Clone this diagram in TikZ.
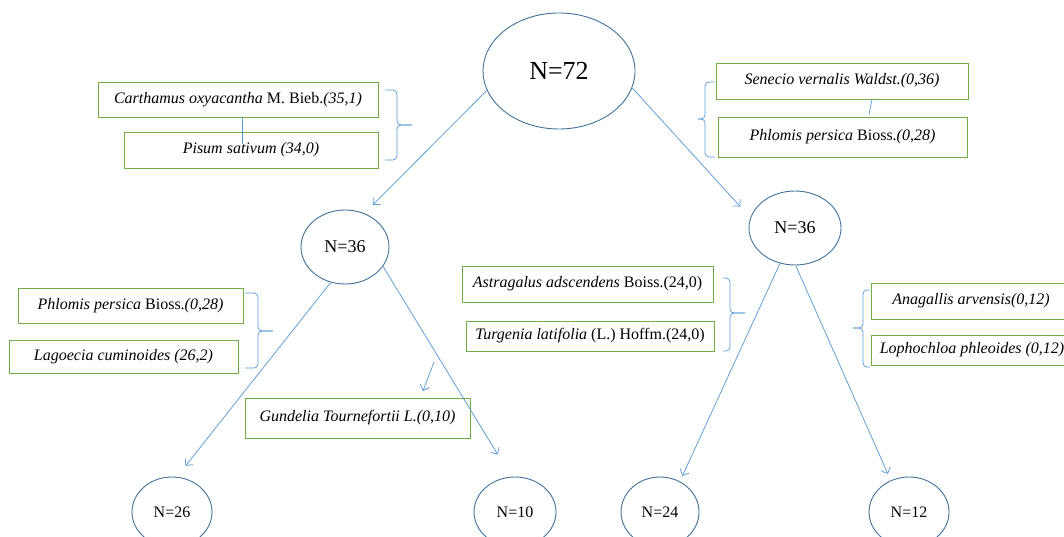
\documentclass[tikz,border=0pt]{standalone}
\usepackage{fontspec}
\setmainfont{Liberation Serif}
\usetikzlibrary{shapes.geometric,arrows.meta}
\definecolor{ellc}{HTML}{41719C}
\definecolor{arrc}{HTML}{5B9BD5}
\definecolor{boxc}{HTML}{70AD47}
\tikzset{
  ell/.style={draw=ellc, ellipse, line width=0.9pt, inner sep=0pt},
  lab/.style={draw=boxc, line width=0.9pt, inner sep=0pt, font=\fontsize{16}{19}\selectfont},
  arr/.style={draw=arrc, line width=0.75pt, -{Straight Barb[length=5pt,width=10pt]}},
  brc/.style={draw=arrc, line width=0.75pt, rounded corners=4pt},
  thinl/.style={draw=arrc, line width=0.75pt}
}
\begin{document}
\begin{tikzpicture}[x=1pt,y=-1pt]
\useasboundingbox (0,0) rectangle (1064,537);
% ellipses
\node[ell, minimum width=152pt, minimum height=116pt, font=\fontsize{26}{30}\selectfont] (root) at (559,71) {N=72};
\node[ell, minimum width=88pt, minimum height=74pt, font=\fontsize{18}{22}\selectfont] (l36) at (345,247) {N=36};
\node[ell, minimum width=92pt, minimum height=74pt, font=\fontsize{18}{22}\selectfont] (r36) at (795,228) {N=36};
\node[ell, minimum width=80pt, minimum height=70pt, font=\fontsize{16}{20}\selectfont] (n26) at (172,512) {N=26};
\node[ell, minimum width=82pt, minimum height=70pt, font=\fontsize{16}{20}\selectfont] (n10) at (515,512) {N=10};
\node[ell, minimum width=78pt, minimum height=70pt, font=\fontsize{16}{20}\selectfont] (n24) at (660,512) {N=24};
\node[ell, minimum width=80pt, minimum height=70pt, font=\fontsize{16}{20}\selectfont] (n12) at (909,512) {N=12};
% label boxes
\node[lab, minimum width=280pt, minimum height=35pt] (carth) at (238,99.5) {\textit{Carthamus oxyacantha} M. Bieb.\textit{(35,1)}};
\node[lab, minimum width=254pt, minimum height=36pt] (pisum) at (251,150) {\textit{Pisum sativum (34,0)}};
\node[lab, minimum width=252pt, minimum height=36pt] (senec) at (842,81) {\textit{Senecio vernalis Waldst.(0,36)}};
\node[lab, minimum width=249pt, minimum height=40pt] (phlr) at (842.5,137) {\textit{Phlomis persica} Bioss.\textit{(0,28)}};
\node[lab, minimum width=225pt, minimum height=35pt] (phll) at (130.5,305.5) {\textit{Phlomis persica} Bioss.\textit{(0,28)}};
\node[lab, minimum width=229pt, minimum height=33pt] (lago) at (123.5,356.5) {\textit{Lagoecia cuminoides (26,2)}};
\node[lab, minimum width=251pt, minimum height=36pt] (astr) at (587.5,284) {\textit{Astragalus adscendens} Boiss.(24,0)};
\node[lab, minimum width=248pt, minimum height=30pt] (turg) at (590,336) {\textit{Turgenia latifolia} (L.) Hoffm.(24,0)};
\node[lab, minimum width=225pt, minimum height=40pt] (gund) at (357.5,418) {\textit{Gundelia Tournefortii L.(0,10)}};
\node[lab, minimum width=200pt, minimum height=36pt] (anag) at (971,301) {\textit{Anagallis arvensis(0,12)}};
\node[lab, minimum width=202pt, minimum height=30pt] (loph) at (972,350) {\textit{Lophochloa phleoides (0,12)}};
% arrows
\draw[arr, shorten >=12pt] (root.195) -- (l36.60);
\draw[arr, shorten >=15pt] (root.347) -- (r36.167);
\draw[arr, shorten >=14pt] (l36.248) -- (n26.82);
\draw[arr, shorten >=26pt] (l36.333) -- (n10.96);
\draw[arr, shorten >=6pt] (r36.247) -- (n24.57);
\draw[arr, shorten >=7pt] (r36.271) -- (n12.120);
\coordinate (g0) at (434,362);
\coordinate (g1) at (423,391);
\draw[arr] (g0) -- (g1);
% small connecting strokes
\coordinate (c1) at (242,144);
\draw[thinl] (carth.south -| c1) -- (c1);
\coordinate (s1) at (872,99);
\coordinate (s2) at (869,115);
\draw[thinl] (s1) -- (s2);
% braces
\draw[brc] (385,90) -| (397,125) -- (412,125);
\draw[brc] (412,125) -- (397,125) |- (385,160);
\draw[brc] (715,82) -| (705,119) -- (698,119);
\draw[brc] (698,119) -- (705,119) |- (715,157);
\draw[brc] (245,293) -| (258,331) -- (273,331);
\draw[brc] (273,331) -- (258,331) |- (245,368);
\draw[brc] (723,278) -| (730,313) -- (745,313);
\draw[brc] (745,313) -- (730,313) |- (723,351);
\draw[brc] (870,290) -| (863,328) -- (853,328);
\draw[brc] (853,328) -- (863,328) |- (870,367);
\end{tikzpicture}
\end{document}
